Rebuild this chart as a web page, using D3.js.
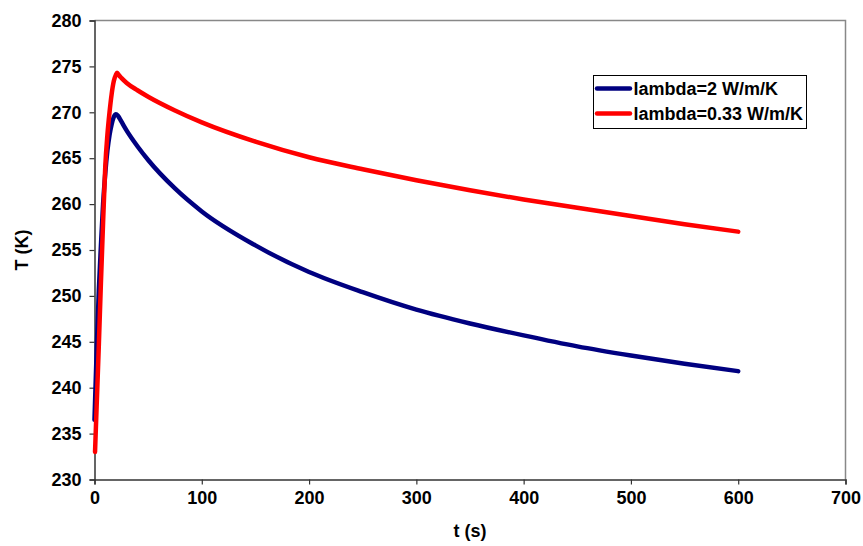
<!DOCTYPE html>
<html>
<head>
<meta charset="utf-8">
<script src="https://cdn.jsdelivr.net/npm/d3@7"></script>
<style>
html,body{margin:0;padding:0;background:#fff;}
svg{display:block;font-family:"Liberation Sans",Arial,sans-serif;}
</style>
</head>
<body>
<svg id="chart" width="863" height="546"></svg>
<script>
// ---- data ----
const seriesNames = ["lambda=2 W/m/K", "lambda=0.33 W/m/K"];
const seriesColors = ["#000080", "#FF0000"];
const tBlue = [0, 2, 4, 6, 8, 10, 12, 14, 16, 18, 20, 22, 25, 30, 40, 50, 75, 100, 150, 200, 250, 300, 350, 400, 450, 500, 550, 600];
const TBlue = [236.5, 244, 250.5, 255.5, 260, 263.3, 265.8, 267.5, 268.7, 269.5, 269.8, 269.6, 269.0, 268.0, 266.3, 264.8, 261.7, 259.2, 255.5, 252.6, 250.4, 248.5, 247.0, 245.7, 244.5, 243.5, 242.6, 241.8];
const tRed = [0.5, 2, 4, 6, 8, 10, 12, 14, 16, 18, 20, 21, 23, 25, 30, 40, 50, 75, 100, 150, 200, 250, 300, 350, 400, 450, 500, 550, 600];
const TRed = [233.0, 238, 244.5, 251.5, 258, 264, 267.5, 270, 272, 273.4, 274.1, 274.3, 274.0, 273.75, 273.2, 272.4, 271.7, 270.2, 268.9, 266.8, 265.1, 263.8, 262.6, 261.5, 260.5, 259.6, 258.7, 257.8, 257.0];
const xTicks = [0, 100, 200, 300, 400, 500, 600, 700];
const yTicks = [230, 235, 240, 245, 250, 255, 260, 265, 270, 275, 280];
const xTitle = "t (s)";
const yTitle = "T (K)";

const svg = d3.select("#chart");
const pL = 94.5, pR = 845.5, pT = 20.5, pB = 479.5;
const FS = "18px";
const x = d3.scaleLinear().domain([0, 700]).range([pL, pR]);
const y = d3.scaleLinear().domain([230, 280]).range([pB, pT]);

// plot frame (top & right)
svg.append("path")
  .attr("d", `M${pL},${pT}H${pR}V${pB}`)
  .attr("fill", "none").attr("stroke", "#888").attr("stroke-width", 1.5);

// axes
const xAxis = svg.append("g").attr("transform", `translate(0,${pB})`)
  .call(d3.axisBottom(x).tickValues(xTicks).tickSize(5).tickPadding(7).tickFormat(d3.format("d")));
const yAxis = svg.append("g").attr("transform", `translate(${pL},0)`)
  .call(d3.axisLeft(y).tickValues(yTicks).tickSize(5).tickPadding(8).tickFormat(d3.format("d")));
[xAxis, yAxis].forEach(g => {
  g.select(".domain").attr("stroke", "#333").attr("stroke-width", 1.5);
  g.selectAll(".tick line").attr("stroke", "#333").attr("stroke-width", 1.2);
  g.selectAll(".tick text").attr("fill", "#000")
    .style("font-size", FS).style("font-weight", "bold")
    .style("font-family", "'Liberation Sans', Arial, sans-serif");
});

// titles
svg.append("text").attr("x", (pL + pR) / 2).attr("y", 537)
  .attr("text-anchor", "middle").style("font-size", FS).style("font-weight", "bold").text(xTitle);
svg.append("text").attr("transform", `translate(28,${(pT + pB) / 2}) rotate(-90)`)
  .attr("text-anchor", "middle").style("font-size", FS).style("font-weight", "bold").text(yTitle);

// lines
const line = d3.line().x(d => x(d[0])).y(d => y(d[1])).curve(d3.curveMonotoneX);
const series = [d3.zip(tBlue, TBlue), d3.zip(tRed, TRed)];
series.forEach((s, i) => {
  svg.append("path").datum(s).attr("d", line)
    .attr("fill", "none").attr("stroke", seriesColors[i])
    .attr("stroke-width", 4.5).attr("stroke-linejoin", "round").attr("stroke-linecap", "round");
});

// legend
const lg = svg.append("g");
lg.append("rect").attr("x", 593.5).attr("y", 75.5).attr("width", 213).attr("height", 53)
  .attr("fill", "#fff").attr("stroke", "#000").attr("stroke-width", 1);
seriesNames.forEach((n, i) => {
  const yy = 88.5 + i * 25;
  lg.append("line").attr("x1", 597).attr("x2", 630).attr("y1", yy).attr("y2", yy)
    .attr("stroke", seriesColors[i]).attr("stroke-width", 4.5).attr("stroke-linecap", "round");
  lg.append("text").attr("x", 633.5).attr("y", yy + 6.5)
    .style("font-size", FS).style("font-weight", "bold").text(n);
});
</script>
</body>
</html>
